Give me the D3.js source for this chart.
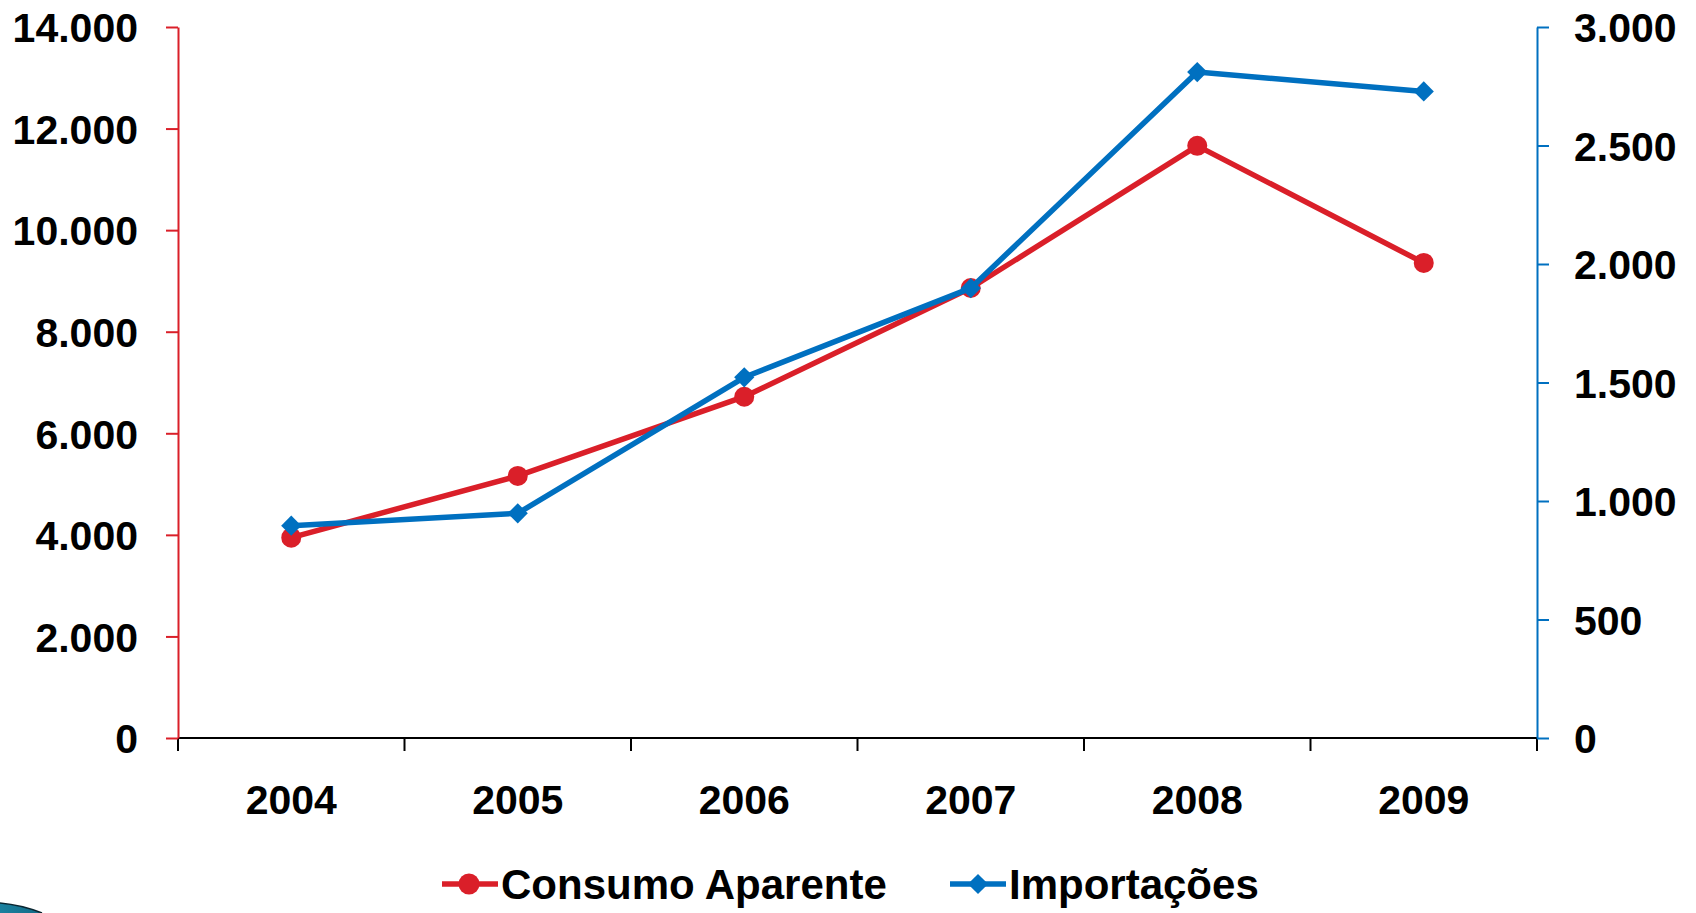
<!DOCTYPE html>
<html>
<head>
<meta charset="utf-8">
<script src="https://cdn.jsdelivr.net/npm/d3@7"></script>
<style>
  html, body { margin: 0; padding: 0; background: #fff; }
  svg { display: block; }
  text { font-family: "Liberation Sans", Arial, Helvetica, sans-serif; font-weight: bold; fill: #000; }
</style>
</head>
<body>
<svg id="chart" width="1696" height="913"></svg>
<script>
const years = ["2004", "2005", "2006", "2007", "2008", "2009"];
const consumoAparente = [3945, 5160, 6720, 8860, 11660, 9355];
const importacoes = [896, 948, 1522, 1898, 2810, 2728];
const leftTicks = [0, 2000, 4000, 6000, 8000, 10000, 12000, 14000];
const rightTicks = [0, 500, 1000, 1500, 2000, 2500, 3000];
const seriesNames = ["Consumo Aparente", "Importações"];

(function () {
const RED = "#da1f29";
const BLUE = "#0070c0";

const svg = d3.select("#chart");
const pLeft = 178, pRight = 1537, pTop = 27, pBottom = 738;

const locale = d3.formatLocale({ decimal: ",", thousands: ".", grouping: [3], currency: ["", ""] });
const fmt = locale.format(",d");

const x = d3.scaleBand().domain(years).range([pLeft, pRight]).paddingInner(0).paddingOuter(0);
const yL = d3.scaleLinear().domain([0, 14000]).range([pBottom, pTop]);
const yR = d3.scaleLinear().domain([0, 3000]).range([pBottom, pTop]);

// bottom axis (labels)
const gx = svg.append("g").attr("transform", `translate(0,${pBottom})`)
  .call(d3.axisBottom(x).tickSize(0).tickPadding(47));
gx.select(".domain").remove();
gx.selectAll("text").style("font-size", "41px").attr("fill", "#000");

// bottom axis boundary ticks
const boundaries = years.map(d => x(d)).concat([x(years[years.length - 1]) + x.bandwidth()]);
svg.append("g").selectAll("line").data(boundaries).join("line")
  .attr("x1", d => d).attr("x2", d => d).attr("y1", pBottom).attr("y2", pBottom + 13)
  .attr("stroke", "#000").attr("stroke-width", 2);
svg.append("line").attr("x1", pLeft).attr("x2", pRight).attr("y1", pBottom).attr("y2", pBottom)
  .attr("stroke", "#000").attr("stroke-width", 2);

// left axis
const gl = svg.append("g").attr("transform", `translate(${pLeft},0)`)
  .call(d3.axisLeft(yL).tickValues(leftTicks).tickFormat(fmt).tickSize(12).tickPadding(28).tickSizeOuter(0));
gl.select(".domain").attr("stroke", RED).attr("stroke-width", 2);
gl.selectAll(".tick line").attr("stroke", RED).attr("stroke-width", 2);
gl.selectAll("text").style("font-size", "41px").attr("fill", "#000").attr("dy", "0.36em");

// right axis
const gr = svg.append("g").attr("transform", `translate(${pRight},0)`)
  .call(d3.axisRight(yR).tickValues(rightTicks).tickFormat(fmt).tickSize(12).tickPadding(25).tickSizeOuter(0));
gr.select(".domain").attr("stroke", BLUE).attr("stroke-width", 2);
gr.selectAll(".tick line").attr("stroke", BLUE).attr("stroke-width", 2);
gr.selectAll("text").style("font-size", "41px").attr("fill", "#000").attr("dy", "0.36em");

const cx = d => x(d) + x.bandwidth() / 2;

const redData = years.map((d, i) => ({ year: d, v: consumoAparente[i] }));
const blueData = years.map((d, i) => ({ year: d, v: importacoes[i] }));

// Consumo Aparente line
svg.append("path").datum(redData)
  .attr("fill", "none").attr("stroke", RED).attr("stroke-width", 5.5).attr("stroke-linejoin", "round")
  .attr("d", d3.line().x(d => cx(d.year)).y(d => yL(d.v)));
svg.append("g").selectAll("circle").data(redData).join("circle")
  .attr("cx", d => cx(d.year)).attr("cy", d => yL(d.v)).attr("r", 10).attr("fill", RED);

// Importações line
svg.append("path").datum(blueData)
  .attr("fill", "none").attr("stroke", BLUE).attr("stroke-width", 5.5).attr("stroke-linejoin", "round")
  .attr("d", d3.line().x(d => cx(d.year)).y(d => yR(d.v)));
const diamond = d3.symbol().type(d3.symbolDiamond2).size(260);
svg.append("g").selectAll("path").data(blueData).join("path")
  .attr("transform", d => `translate(${cx(d.year)},${yR(d.v)})`)
  .attr("d", diamond).attr("fill", BLUE);

// Legend
const legendY = 884;
const legend = [
  { name: seriesNames[0], color: RED, x0: 442, marker: "circle" },
  { name: seriesNames[1], color: BLUE, x0: 950, marker: "diamond" }
];
legend.forEach(l => {
  const g = svg.append("g");
  g.append("line").attr("x1", l.x0).attr("x2", l.x0 + 56).attr("y1", legendY).attr("y2", legendY)
    .attr("stroke", l.color).attr("stroke-width", 5.5);
  if (l.marker === "circle") {
    g.append("circle").attr("cx", l.x0 + 27).attr("cy", legendY).attr("r", 10.5).attr("fill", l.color);
  } else {
    g.append("path").attr("transform", `translate(${l.x0 + 28},${legendY})`).attr("d", diamond).attr("fill", l.color);
  }
  g.append("text").attr("x", l.x0 + 59).attr("y", legendY + 15).style("font-size", "42px").text(l.name);
});

// decorative swoosh bottom-left
const grad = svg.append("defs").append("linearGradient").attr("id", "sw").attr("x1", 0).attr("x2", 1).attr("y1", 0).attr("y2", 0);
grad.append("stop").attr("offset", "0%").attr("stop-color", "#1b819f");
grad.append("stop").attr("offset", "100%").attr("stop-color", "#136a86");
svg.append("path").attr("d", "M0,903 Q22,905 42,913 L0,913 Z").attr("fill", "url(#sw)");
svg.append("path").attr("d", "M0,903 Q22,905 42,913").attr("fill", "none").attr("stroke", "#0a2530").attr("stroke-width", 1.5);
})();
</script>
</body>
</html>
